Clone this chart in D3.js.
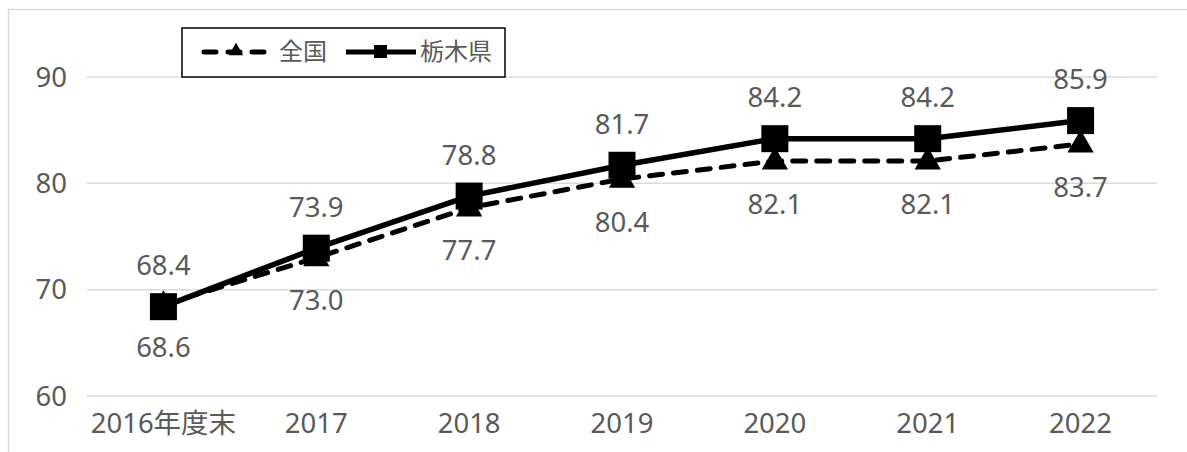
<!DOCTYPE html>
<html>
<head>
<meta charset="utf-8">
<script src="https://cdn.jsdelivr.net/npm/d3@7"></script>
<style>
  body { margin: 0; background: #fff; }
  svg text { font-family: "Noto Sans", "Noto Sans CJK JP", sans-serif; fill: #595959; }
</style>
</head>
<body>
<div id="chart"></div>
<script>
// data
const categories = ["2016年度末", "2017", "2018", "2019", "2020", "2021", "2022"];
const zenkoku = [68.6, 73.0, 77.7, 80.4, 82.1, 82.1, 83.7];
const tochigi = [68.4, 73.9, 78.8, 81.7, 84.2, 84.2, 85.9];
const yTicks = [60, 70, 80, 90];

const width = 1187, height = 452;
const fs = 27.5;
const svg = d3.select("#chart").append("svg")
    .attr("width", width)
    .attr("height", height);

// chart frame (cut off on right/bottom in the reference)
svg.append("rect")
    .attr("x", 8.5).attr("y", 9.5)
    .attr("width", 1200).attr("height", 500)
    .attr("fill", "#fff")
    .attr("stroke", "#d9d9d9")
    .attr("stroke-width", 1.5);

const x = d3.scaleBand().domain(categories).range([87, 1157]);
const y = d3.scaleLinear().domain([60, 90]).range([396, 77]);
const cx = d => x(d) + x.bandwidth() / 2;

// gridlines
svg.append("g").selectAll("line")
    .data(yTicks)
    .enter().append("line")
    .attr("x1", 87).attr("x2", 1157)
    .attr("y1", d => y(d)).attr("y2", d => y(d))
    .attr("stroke", "#d9d9d9")
    .attr("stroke-width", 1.5);

// y labels
svg.append("g").selectAll("text")
    .data(yTicks)
    .enter().append("text")
    .attr("x", 67).attr("y", d => y(d))
    .attr("dy", "0.35em")
    .attr("text-anchor", "end")
    .attr("font-size", fs)
    .text(d => d);

// x labels
svg.append("g").selectAll("text")
    .data(categories)
    .enter().append("text")
    .attr("x", d => cx(d)).attr("y", 433)
    .attr("text-anchor", "middle")
    .attr("font-size", fs)
    .text(d => d);

const line = d3.line()
    .x((d, i) => cx(categories[i]))
    .y(d => y(d));

// 全国 (dashed + triangles)
svg.append("path")
    .datum(zenkoku)
    .attr("d", line)
    .attr("fill", "none")
    .attr("stroke", "#000")
    .attr("stroke-width", 5)
    .attr("stroke-linecap", "round")
    .attr("stroke-dasharray", "13,11");

const tri = d3.symbol().type(d3.symbolTriangle).size(300);
svg.append("g").selectAll("path")
    .data(zenkoku)
    .enter().append("path")
    .attr("d", tri)
    .attr("transform", (d, i) => `translate(${cx(categories[i])},${y(d) + 1})`)
    .attr("fill", "#000");

// 栃木県 (solid + squares)
svg.append("path")
    .datum(tochigi)
    .attr("d", line)
    .attr("fill", "none")
    .attr("stroke", "#000")
    .attr("stroke-width", 5.5);

svg.append("g").selectAll("rect")
    .data(tochigi)
    .enter().append("rect")
    .attr("x", (d, i) => cx(categories[i]) - 13.5)
    .attr("y", d => y(d) - 13.5)
    .attr("width", 27).attr("height", 27)
    .attr("fill", "#000");

// data labels
svg.append("g").selectAll("text")
    .data(tochigi)
    .enter().append("text")
    .attr("x", (d, i) => cx(categories[i]))
    .attr("y", d => y(d) - 41)
    .attr("dy", "0.35em")
    .attr("text-anchor", "middle")
    .attr("font-size", fs)
    .text(d => d.toFixed(1));

svg.append("g").selectAll("text")
    .data(zenkoku)
    .enter().append("text")
    .attr("x", (d, i) => cx(categories[i]))
    .attr("y", d => y(d) + 43)
    .attr("dy", "0.35em")
    .attr("text-anchor", "middle")
    .attr("font-size", fs)
    .text(d => d.toFixed(1));

// legend
const lg = svg.append("g");
lg.append("rect")
    .attr("x", 182).attr("y", 28)
    .attr("width", 323).attr("height", 49)
    .attr("fill", "#fff")
    .attr("stroke", "#000")
    .attr("stroke-width", 1.5);

lg.append("line")
    .attr("x1", 204).attr("x2", 266)
    .attr("y1", 52).attr("y2", 52)
    .attr("stroke", "#000")
    .attr("stroke-width", 5)
    .attr("stroke-linecap", "round")
    .attr("stroke-dasharray", "12,12");
lg.append("path")
    .attr("d", d3.symbol().type(d3.symbolTriangle).size(90))
    .attr("transform", "translate(236,51)")
    .attr("fill", "#000");
lg.append("text")
    .attr("x", 279).attr("y", 52)
    .attr("dy", "0.35em")
    .attr("font-size", 24)
    .text("全国");

lg.append("line")
    .attr("x1", 346).attr("x2", 416)
    .attr("y1", 52).attr("y2", 52)
    .attr("stroke", "#000")
    .attr("stroke-width", 5);
lg.append("rect")
    .attr("x", 374).attr("y", 45)
    .attr("width", 13).attr("height", 13)
    .attr("fill", "#000");
lg.append("text")
    .attr("x", 420).attr("y", 52)
    .attr("dy", "0.35em")
    .attr("font-size", 24)
    .text("栃木県");
</script>
</body>
</html>
